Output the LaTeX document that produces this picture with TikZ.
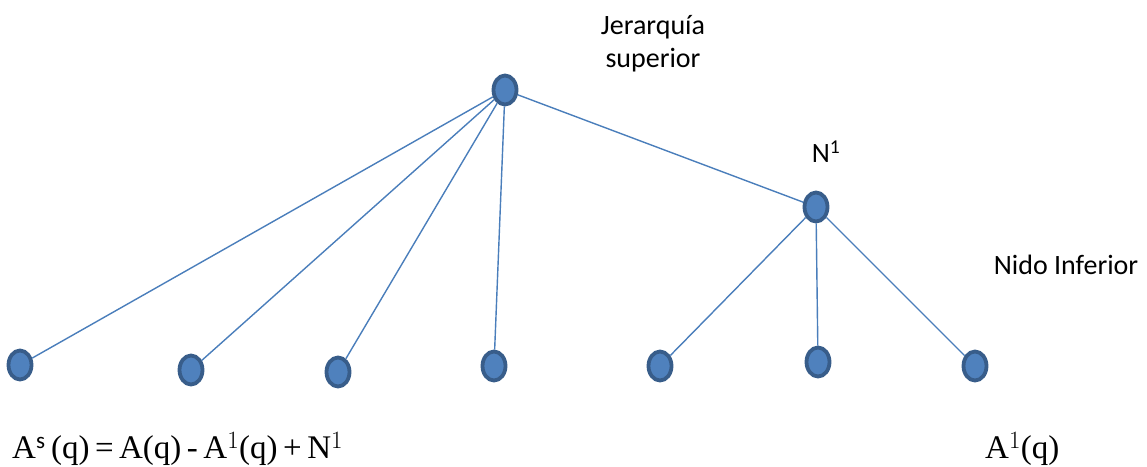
\documentclass[tikz,border=0pt]{standalone}
\usepackage{fontspec}
\setmainfont{Carlito}
\newfontfamily\serifrm{Liberation Serif}
\usetikzlibrary{shapes.geometric}
\definecolor{nodefill}{HTML}{4F81BD}
\definecolor{nodeedge}{HTML}{385D8A}
\definecolor{edgecol}{HTML}{4A7EBB}
\tikzset{
  dot/.style={ellipse, fill=nodefill, draw=nodeedge, line width=3.8pt, minimum width=23pt, minimum height=29pt, inner sep=0pt},
  link/.style={draw=edgecol, line width=1.4pt},
  lbl/.style={font=\fontsize{28}{33}\selectfont, inner sep=0pt, align=center},
  eq/.style={font=\serifrm\fontsize{33}{38}\selectfont, inner sep=0pt, anchor=base west}
}
\begin{document}
\begin{tikzpicture}[x=1pt,y=-1pt]
\useasboundingbox (0,0) rectangle (1147,466);
\node[dot] (top) at (505,90) {};
\node[dot] (n1) at (816,207) {};
\node[dot] (b1) at (20,365) {};
\node[dot] (b2) at (191,370) {};
\node[dot] (b3) at (338,372) {};
\node[dot] (b4) at (494,366) {};
\node[dot] (b5) at (660,366) {};
\node[dot] (b6) at (818,362) {};
\node[dot] (b7) at (975,366) {};
\foreach \b in {b1,b2,b3,b4} \draw[link] (top) -- (\b);
\draw[link] (top) -- (n1);
\foreach \b in {b5,b6,b7} \draw[link] (n1) -- (\b);
\node[lbl] (jer) at (653,44) {Jerarqu\'ia\\superior};
\node[lbl] (nl) at (826,152) {N\textsuperscript{1}};
\node[lbl] (nido) at (1066,265) {Nido Inferior};
\node[eq] (eqs) at (12,458) {A$^{\mathrm{s}}$\,(q)\,=\,A(q)\,-\,A$^{1}$(q)\,+\,N$^{1}$};
\node[eq] (eqa) at (985,458) {A$^{1}$(q)};
\end{tikzpicture}
\end{document}
